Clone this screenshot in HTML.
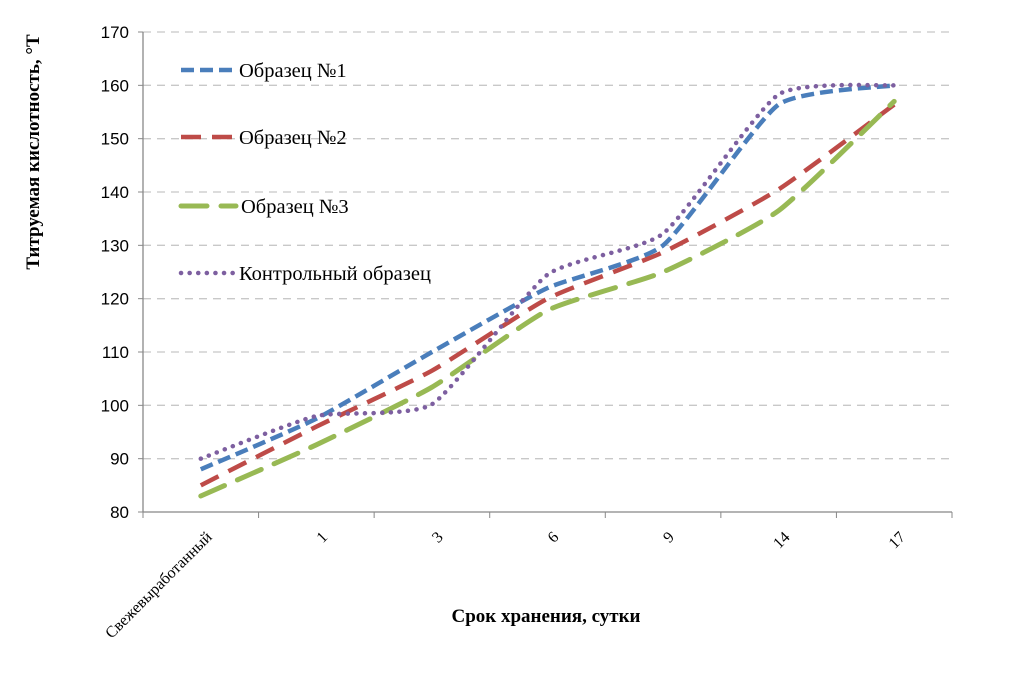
<!DOCTYPE html>
<html><head><meta charset="utf-8"><style>
body{margin:0;background:#fff;}
svg{display:block;font-family:"Liberation Serif","Noto Serif CJK SC",serif;}
</style></head><body>
<svg id="chart" width="1009" height="698" viewBox="0 0 1009 698">
<g id="grid"></g><g id="axes"></g><g id="series"></g><g id="legend"></g>
<text x="546" y="622" text-anchor="middle" font-size="19" font-weight="bold">Срок хранения, сутки</text>
<text transform="translate(39,152) rotate(-90)" text-anchor="middle" font-size="19" font-weight="bold">Титруемая кислотность, °Т</text>
</svg>
<script>
const categories=["Свежевыработанный","1","3","6","9","14","17"];
const sample1=[88,97.5,110,122,130,156.4,160];
const sample2=[85,96,106.5,120,128.7,140.5,156.4];
const sample3=[83,92.6,103.4,117.8,125,136.5,157];
const control=[90,98,100.2,124.5,132.2,158.3,160];
const yTicks=[80,90,100,110,120,130,140,150,160,170];
const seriesNames=["Образец №1","Образец №2","Образец №3","Контрольный образец"];
const NS="http://www.w3.org/2000/svg";
const X0=143,X1=952,Y0=512,Y1=32,YMIN=80,YMAX=170;
const slot=(X1-X0)/categories.length;
const xs=i=>X0+slot*(i+0.5);
const ys=v=>Y0-(v-YMIN)/(YMAX-YMIN)*(Y0-Y1);
function mk(tag,attrs,parent){const e=document.createElementNS(NS,tag);for(const k in attrs)e.setAttribute(k,attrs[k]);parent.appendChild(e);return e;}
const grid=document.getElementById('grid'),axes=document.getElementById('axes'),ser=document.getElementById('series'),leg=document.getElementById('legend');
yTicks.forEach(t=>{
 if(t>YMIN){const g=mk('line',{x1:X0,x2:X1,y1:ys(t),y2:ys(t),stroke:'#c8c8c8','stroke-width':1.3,'stroke-dasharray':'8,6'},grid);
 
 }
 const tk=mk('line',{x1:X0-5,x2:X0,y1:ys(t),y2:ys(t),stroke:'#888'},axes);
 
 
 const tx=mk('text',{x:X0-14,y:ys(t)+6,'text-anchor':'end','font-size':17,'font-family':'Liberation Sans, sans-serif'},axes);tx.textContent=t;
 
 
});
const ya=mk('line',{x1:X0,x2:X0,y1:Y1,y2:Y0,stroke:'#888','stroke-width':1.3},axes);


const xa=mk('line',{x1:X0,x2:X1,y1:Y0,y2:Y0,stroke:'#888','stroke-width':1.3},axes);


for(let i=0;i<=categories.length;i++){const tk=mk('line',{x1:X0+slot*i,x2:X0+slot*i,y1:Y0,y2:Y0+6,stroke:'#888'},axes);
 
 }
categories.forEach((c,i)=>{
 const tx=mk('text',{transform:`translate(${xs(i)+12},${Y0+26}) rotate(-45)`,'text-anchor':'end','font-size':16},axes);tx.textContent=c;
 
 
});
function path(vals){const p=vals.map((v,i)=>[xs(i),ys(v)]);let d=`M${p[0][0]},${p[0][1]}`;const t=0.09;
 for(let i=0;i<p.length-1;i++){const a=p[i-1]||p[i],b=p[i],c=p[i+1],e=p[i+2]||c;
 d+=` C${b[0]+(c[0]-a[0])*t},${b[1]+(c[1]-a[1])*t} ${c[0]-(e[0]-b[0])*t},${c[1]-(e[1]-b[1])*t} ${c[0]},${c[1]}`;}return d;}
const styles=[{c:'#4a7ebb',d:'13,6',w:4.5,cap:'butt'},{c:'#be4b48',d:'20,11',w:4.5,cap:'butt'},{c:'#98b954',d:'26,14',w:5,cap:'round'},{c:'#7d5fa0',d:'0.1,8.5',w:4.5,cap:'round'}];
[sample1,sample2,sample3,control].forEach((vals,k)=>{const s=styles[k];
 const p=mk('path',{d:path(vals),fill:'none',stroke:s.c,'stroke-width':s.w,'stroke-dasharray':s.d,'stroke-linecap':s.cap},ser);
 
 
});
const legY=[70,137,206,273];
seriesNames.forEach((n,k)=>{const s=styles[k];
 const l=mk('line',{x1:181,x2:236,y1:legY[k],y2:legY[k],stroke:s.c,'stroke-width':s.w,'stroke-dasharray':s.d,'stroke-linecap':s.cap},leg);
 
 
 const t=mk('text',{x:k==2?241:239,y:legY[k]+7,'font-size':20.5},leg);t.textContent=n;
 
 
});
</script>
</body></html>
